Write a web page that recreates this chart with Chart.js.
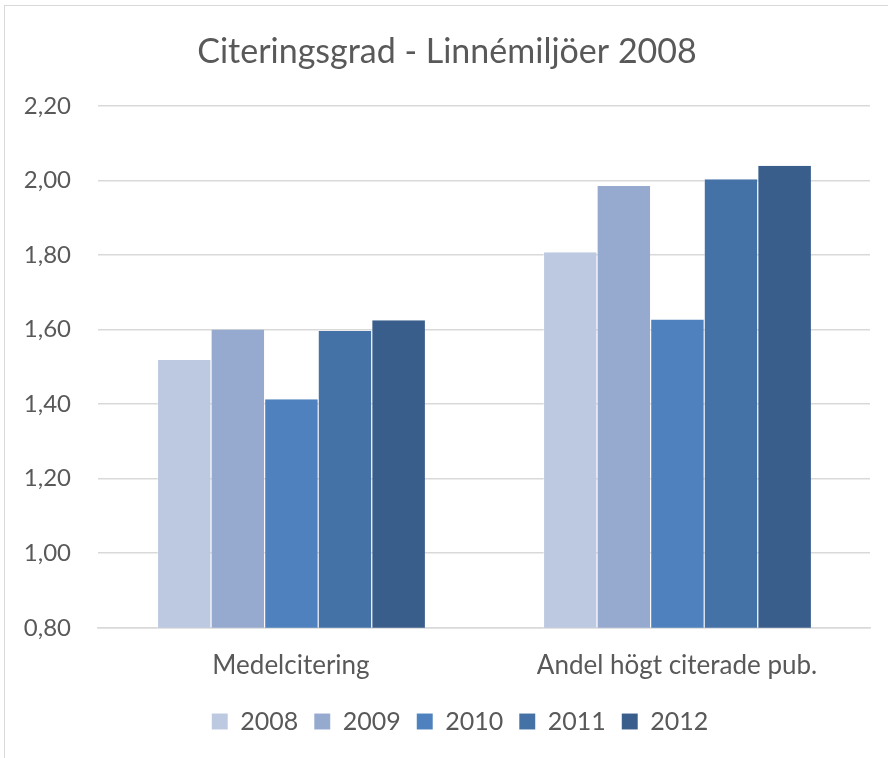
<!DOCTYPE html>
<html>
<head>
<meta charset="utf-8">
<script src="https://cdn.jsdelivr.net/npm/chart.js@4.4.1/dist/chart.umd.min.js"></script>
<style>
  html, body { margin: 0; padding: 0; background: #fff; overflow: hidden; }
  #frame {
    position: absolute; left: 4px; top: 5px; width: 900px; height: 800px;
    border-left: 1.5px solid #d9d9d9; border-top: 1.5px solid #d9d9d9;
  }
  #wrap { position: absolute; left: 0; top: 0; width: 888px; height: 758px; }
</style>
</head>
<body>
<div id="frame"></div>
<div id="wrap"><canvas id="chart" width="888" height="758"></canvas></div>
<script>
const categories = ['Medelcitering', 'Andel högt citerade pub.'];
const years = ['2008', '2009', '2010', '2011', '2012'];
const values2008 = [1.518, 1.807];
const values2009 = [1.600, 1.985];
const values2010 = [1.413, 1.627];
const values2011 = [1.596, 2.003];
const values2012 = [1.625, 2.039];
const seriesColors = ['#BDC9E1', '#96AAD0', '#4E81BD', '#4472A7', '#3A5E8C'];

const allValues = [values2008, values2009, values2010, values2011, values2012];
const textColor = '#595959';
const fontFamily = 'Lato, "Open Sans", sans-serif';

// small horizontal nudge of the legend row
const legendShift = {
  id: 'legendShift',
  afterLayout(chart) {
    if (chart.legend) chart.legend.left += 26;
  }
};

const chart = new Chart(document.getElementById('chart'), {
  type: 'bar',
  data: {
    labels: categories,
    datasets: years.map((y, i) => ({
      label: y,
      data: allValues[i],
      backgroundColor: seriesColors[i],
      borderColor: 'rgba(255,255,255,0.35)',
      borderWidth: { left: 1, right: 0, top: 0, bottom: 0 },
      borderSkipped: false,
      categoryPercentage: 0.694,
      barPercentage: 1.0
    }))
  },
  options: {
    responsive: false,
    animation: false,
    layout: { padding: { left: 24, right: 18, top: 0, bottom: 14 } },
    plugins: {
      title: {
        display: true,
        text: 'Citeringsgrad - Linnémiljöer 2008',
        color: textColor,
        font: { family: fontFamily, size: 34, weight: 'normal' },
        padding: { top: 32, bottom: 33 }
      },
      legend: {
        position: 'bottom',
        labels: {
          color: textColor,
          font: { family: fontFamily, size: 25 },
          boxWidth: 16,
          boxHeight: 16,
          padding: 16
        }
      },
      tooltip: { enabled: false }
    },
    scales: {
      x: {
        afterFit: scale => { scale.height -= 10; },
        grid: { display: false, drawTicks: false },
        border: { display: true, color: '#d9d9d9', width: 1.5 },
        ticks: {
          color: textColor,
          font: { family: fontFamily, size: 26 },
          padding: 22
        }
      },
      y: {
        min: 0.8,
        max: 2.2,
        afterFit: scale => { scale.width = 74; },
        grid: { color: '#d9d9d9', lineWidth: 1.5, drawTicks: false },
        border: { display: false },
        ticks: {
          stepSize: 0.2,
          color: textColor,
          font: { family: fontFamily, size: 24 },
          padding: 27,
          callback: v => v.toFixed(2).replace('.', ',')
        }
      }
    }
  },
  plugins: [legendShift]
});
</script>
</body>
</html>
